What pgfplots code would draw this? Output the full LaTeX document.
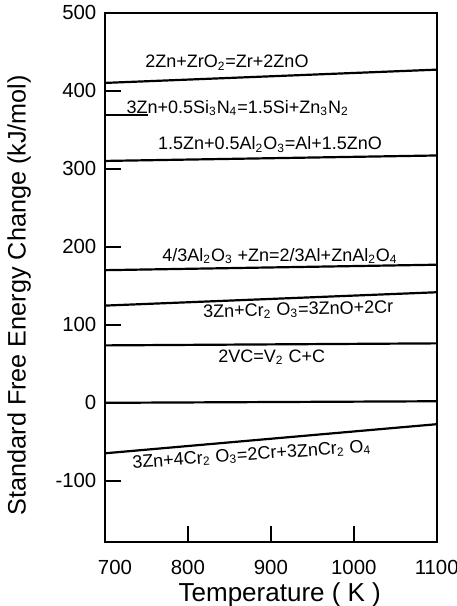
\documentclass[border=0pt]{standalone}
\usepackage{fontspec}
\setmainfont{Liberation Sans}
\usepackage{pgfplots}
\pgfplotsset{compat=1.18}
\newcommand{\s}[1]{\textsubscript{#1}}
\begin{document}
\begin{tikzpicture}
\begin{axis}[
  scale only axis, width=165.85pt, height=264.5pt,
  xmin=700, xmax=1100, ymin=-178, ymax=500,
  xtick={700,800,900,1000,1100},
  xticklabels={\hspace{10pt}700,800,900,1000,1100\hspace{5pt}},
  ytick={-100,0,100,200,300,400,500},
  xtick pos=bottom, ytick pos=left,
  xtick align=inside, ytick align=inside,
  major tick length=7.8pt,
  axis line style={line width=1pt},
  xtick style={line width=1pt, black},
  ytick style={line width=1pt, black},
  /pgf/number format/assume math mode=true,
  ticklabel style={font=\fontsize{10.2}{12}\selectfont},
  xticklabel style={anchor=base, yshift=-16.6pt},
  yticklabel style={xshift=-0.8pt},
  xlabel={Temperature ( K )},
  ylabel={Standard Free Energy Change (kJ/mol)},
  xlabel style={font=\fontsize{13}{15}\selectfont, at={(axis description cs:0.527,-0.1134)}, anchor=base},
  ylabel style={font=\fontsize{12.6}{15}\selectfont, at={(axis description cs:-0.259,0.466)}, anchor=center},
  cycle list={{black, solid, mark=none}},
  every axis plot post/.append style={line width=1.1pt},
]
\addplot coordinates {(700,410) (1100,427)};
\addplot coordinates {(700,369) (752,369)};
\addplot coordinates {(700,310) (1100,317)};
\addplot coordinates {(700,170) (1100,177)};
\addplot coordinates {(700,124.6) (1100,141.7)};
\addplot coordinates {(700,73.6) (1100,76.2)};
\addplot coordinates {(700,0) (1100,2)};
\addplot coordinates {(700,-64.7) (1100,-27.4)};

\draw[line width=1pt] (axis cs:800,-178) -- (axis cs:800,-158);
\draw[line width=1pt] (axis cs:900,-178) -- (axis cs:900,-158);
\draw[line width=1pt] (axis cs:1000,-178) -- (axis cs:1000,-158);

\begin{scope}[every node/.style={font=\fontsize{9}{10}\selectfont, inner sep=0pt}]
\node at (axis cs:847,436) {2Zn+ZrO\s{2}=Zr+2ZnO};
\node at (axis cs:860,378) {3Zn+0.5Si\s{3}N\s{4}=1.5Si+Zn\s{3}N\s{2}};
\node at (axis cs:899,331) {1.5Zn+0.5Al\s{2}O\s{3}=Al+1.5ZnO};
\node at (axis cs:911,188) {4/3Al\s{2}O\s{3} +Zn=2/3Al+ZnAl\s{2}O\s{4}};
\node[rotate=1.5] at (axis cs:933,119) {3Zn+Cr\s{2} O\s{3}=3ZnO+2Cr};
\node at (axis cs:901,58) {2VC=V\s{2} C+C};
\node[rotate=4] at (axis cs:877,-67) {3Zn+4Cr\s{2} O\s{3}=2Cr+3ZnCr\s{2} O\s{4}};
\end{scope}
\end{axis}
\pgfresetboundingbox
\path ([shift={(-52.5pt,-32.15pt)}]current axis.south west) rectangle ([shift={(10.15pt,6.35pt)}]current axis.north east);
\end{tikzpicture}
\end{document}
